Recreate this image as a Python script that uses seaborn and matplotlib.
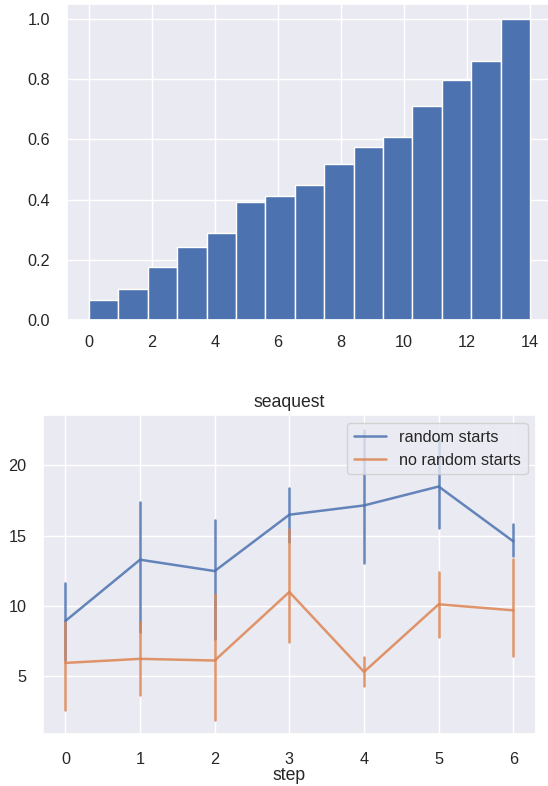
import matplotlib
matplotlib.use("Agg")
import matplotlib.pyplot as plt
import seaborn as sns
import pandas as pd

# ---- data: top histogram (cumulative fraction per bin) ----
bin_values = list(range(15))
bin_heights = [0.065, 0.103, 0.177, 0.243, 0.288, 0.391, 0.413, 0.448,
               0.520, 0.574, 0.608, 0.710, 0.797, 0.860, 1.000]

# ---- data: bottom line plot ----
steps = [0, 1, 2, 3, 4, 5, 6]
series_names = ["random starts", "no random starts"]
rand_mean = [8.91, 13.28, 12.47, 16.49, 17.15, 18.50, 14.59]
rand_low = [6.15, 8.13, 7.66, 14.54, 13.04, 15.56, 13.54]
rand_high = [11.62, 17.39, 16.13, 18.41, 22.55, 21.90, 15.80]
norand_mean = [5.92, 6.21, 6.09, 10.98, 5.28, 10.10, 9.67]
norand_low = [2.55, 3.62, 1.84, 7.42, 4.27, 7.77, 6.40]
norand_high = [8.84, 8.84, 10.86, 15.49, 6.35, 12.40, 13.35]

sns.set_theme(style="darkgrid", context="notebook")
plt.rcParams["font.family"] = ["Liberation Sans", "DejaVu Sans"]

fig = plt.figure(figsize=(5.48, 7.86), dpi=100)
ax1 = fig.add_axes([67 / 548, 1 - 320 / 786, (552 - 67) / 548, (320 - 4) / 786])
ax2 = fig.add_axes([43 / 548, 1 - 734 / 786, (535.7 - 43) / 548, (734 - 415) / 786])

# top: histogram
sns.histplot(x=bin_values, weights=bin_heights, bins=15, binrange=(0, 14),
             color="#4c72b0", alpha=1.0, edgecolor="white", linewidth=1.0, ax=ax1)
ax1.set_ylabel("")
ax1.set_xlabel("")
ax1.set_xticks([0, 2, 4, 6, 8, 10, 12, 14])
ax1.set_yticks([0.0, 0.2, 0.4, 0.6, 0.8, 1.0])
ax1.set_xlim(-0.7, 14.7)
ax1.set_ylim(0, 1.05)

# bottom: line plot with error bars
rows = []
for name, mean, lo, hi in [(series_names[0], rand_mean, rand_low, rand_high),
                           (series_names[1], norand_mean, norand_low, norand_high)]:
    for s, m, l, h in zip(steps, mean, lo, hi):
        for v in (l, m, h):
            rows.append({"step": s, "value": v, "run": name})
df = pd.DataFrame(rows)

sns.lineplot(data=df, x="step", y="value", hue="run", hue_order=series_names,
             estimator="median", errorbar=("pi", 100), err_style="bars",
             palette=["#4c72b0", "#dd8452"], alpha=0.85, linewidth=1.8,
             err_kws={"linewidth": 1.8}, ax=ax2)
handles, labels = ax2.get_legend_handles_labels()
ax2.legend(handles=handles, labels=labels, loc="upper right", fontsize=11.7,
           handlelength=2.0)
ax2.set_title("seaquest", fontsize=12.7)
ax2.set_xlabel("step", fontsize=12.7, labelpad=0)
ax2.set_ylabel("")
ax2.set_yticks([5, 10, 15, 20])
ax2.set_ylim(0.85, 23.6)
ax2.set_xlim(-0.3, 6.3)

for ax in (ax1, ax2):
    ax.tick_params(labelsize=11.7)
ax1.tick_params(axis="x", pad=5)
ax2.tick_params(axis="x", pad=7)
ax1.tick_params(axis="y", pad=6)
ax2.tick_params(axis="y", pad=6)

fig.savefig("out.png", dpi=100)
